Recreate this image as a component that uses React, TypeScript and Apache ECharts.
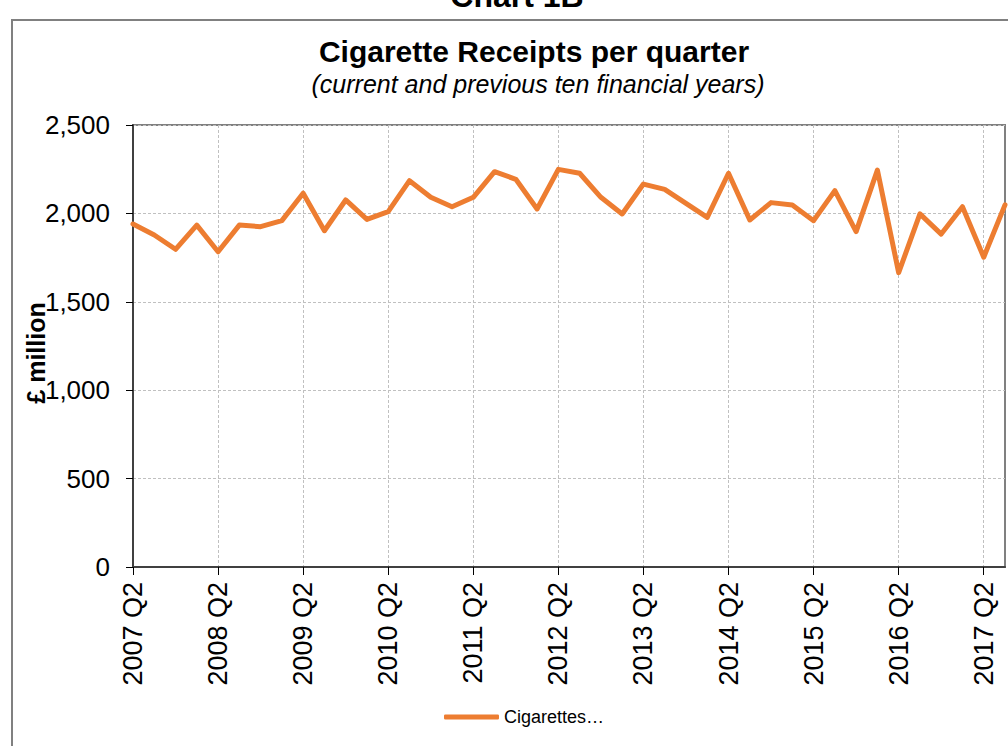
import React, { useEffect, useRef } from "react";
import * as echarts from "echarts";

const categories: string[] = [
  "2007 Q2", "2007 Q3", "2007 Q4", "2008 Q1",
  "2008 Q2", "2008 Q3", "2008 Q4", "2009 Q1",
  "2009 Q2", "2009 Q3", "2009 Q4", "2010 Q1",
  "2010 Q2", "2010 Q3", "2010 Q4", "2011 Q1",
  "2011 Q2", "2011 Q3", "2011 Q4", "2012 Q1",
  "2012 Q2", "2012 Q3", "2012 Q4", "2013 Q1",
  "2013 Q2", "2013 Q3", "2013 Q4", "2014 Q1",
  "2014 Q2", "2014 Q3", "2014 Q4", "2015 Q1",
  "2015 Q2", "2015 Q3", "2015 Q4", "2016 Q1",
  "2016 Q2", "2016 Q3", "2016 Q4", "2017 Q1",
  "2017 Q2", "2017 Q3",
];

const cigarettes: number[] = [
  1940, 1878, 1797, 1934,
  1783, 1934, 1925, 1959,
  2114, 1902, 2076, 1966,
  2010, 2185, 2091, 2038,
  2091, 2236, 2193, 2025,
  2249, 2227, 2091, 1997,
  2166, 2136, 2057, 1978,
  2227, 1963, 2061, 2048,
  1959, 2129, 1897, 2245,
  1665, 1997, 1883, 2038,
  1752, 2048,
];

const seriesName = "Cigarettes…";
const chartLabel = "Chart 1B";
const titleText = "Cigarette Receipts per quarter";
const subtitleText = "(current and previous ten financial years)";
const yAxisName = "£ million";

const FONT = "'Liberation Sans', Arial, sans-serif";

export default function App() {
  const ref = useRef<HTMLDivElement>(null);

  useEffect(() => {
    if (!ref.current) return;
    const chart = echarts.init(ref.current, undefined, { renderer: "svg" });
    chart.setOption({
      animation: false,
      backgroundColor: "#ffffff",
      textStyle: { fontFamily: FONT },
      graphic: [
        {
          type: "rect",
          z: -10,
          shape: { x: 12, y: 20, width: 1200, height: 900 },
          style: { fill: "none", stroke: "#808080", lineWidth: 2 },
        },
        {
          type: "text",
          x: 517,
          y: -4,
          style: {
            text: chartLabel,
            font: `bold 32px ${FONT}`,
            fill: "#000",
            align: "center",
            verticalAlign: "middle",
          },
        },
        {
          type: "text",
          x: 534,
          y: 51,
          style: {
            text: titleText,
            font: `bold 30px ${FONT}`,
            fill: "#000",
            align: "center",
            verticalAlign: "middle",
          },
        },
        {
          type: "text",
          x: 538,
          y: 84,
          style: {
            text: subtitleText,
            font: `italic 25px ${FONT}`,
            fill: "#000",
            align: "center",
            verticalAlign: "middle",
          },
        },
        {
          type: "text",
          x: 36,
          y: 353,
          rotation: Math.PI / 2,
          z: 10,
          style: {
            text: yAxisName,
            font: `bold 25px ${FONT}`,
            fill: "#000",
            align: "center",
            verticalAlign: "middle",
          },
        },
      ],
      legend: {
        show: true,
        left: 439,
        top: 703,
        icon: "roundRect",
        itemWidth: 55,
        itemHeight: 5,
        itemGap: 10,
        textStyle: { fontSize: 18, color: "#000", fontFamily: FONT },
        data: [seriesName],
      },
      grid: {
        left: 133,
        right: 3,
        top: 125,
        bottom: 179,
        show: true,
        borderColor: "#808080",
        borderWidth: 2,
        containLabel: false,
      },
      xAxis: {
        type: "category",
        data: categories,
        boundaryGap: false,
        axisLine: { show: true, lineStyle: { color: "#404040", width: 2 } },
        axisTick: {
          show: true,
          interval: 3,
          length: 8,
          lineStyle: { color: "#000", width: 1 },
        },
        axisLabel: {
          interval: 3,
          rotate: 90,
          margin: 15,
          fontSize: 27,
          color: "#000",
          fontFamily: FONT,
        },
        splitLine: {
          show: true,
          interval: 3,
          lineStyle: { color: "#c0c0c0", type: [3, 2], width: 1 },
        },
      },
      yAxis: {
        type: "value",
        min: 0,
        max: 2500,
        interval: 500,
        axisLine: { show: true, lineStyle: { color: "#404040", width: 2 } },
        axisTick: { show: true, length: 7, lineStyle: { color: "#000", width: 1 } },
        axisLabel: {
          margin: 23,
          fontSize: 26,
          color: "#000",
          fontFamily: FONT,
          formatter: (v: number) => v.toLocaleString("en-GB"),
        },
        splitLine: {
          show: true,
          lineStyle: { color: "#c0c0c0", type: [3, 2], width: 1 },
        },
      },
      series: [
        {
          name: seriesName,
          type: "line",
          data: cigarettes,
          showSymbol: false,
          symbol: "none",
          lineStyle: { color: "#ED7D31", width: 5, cap: "round", join: "round" },
          itemStyle: { color: "#ED7D31" },
        },
      ],
    });
    return () => chart.dispose();
  }, []);

  return (
    <div
      ref={ref}
      style={{ position: "absolute", left: 0, top: 0, width: 1008, height: 746 }}
    />
  );
}
